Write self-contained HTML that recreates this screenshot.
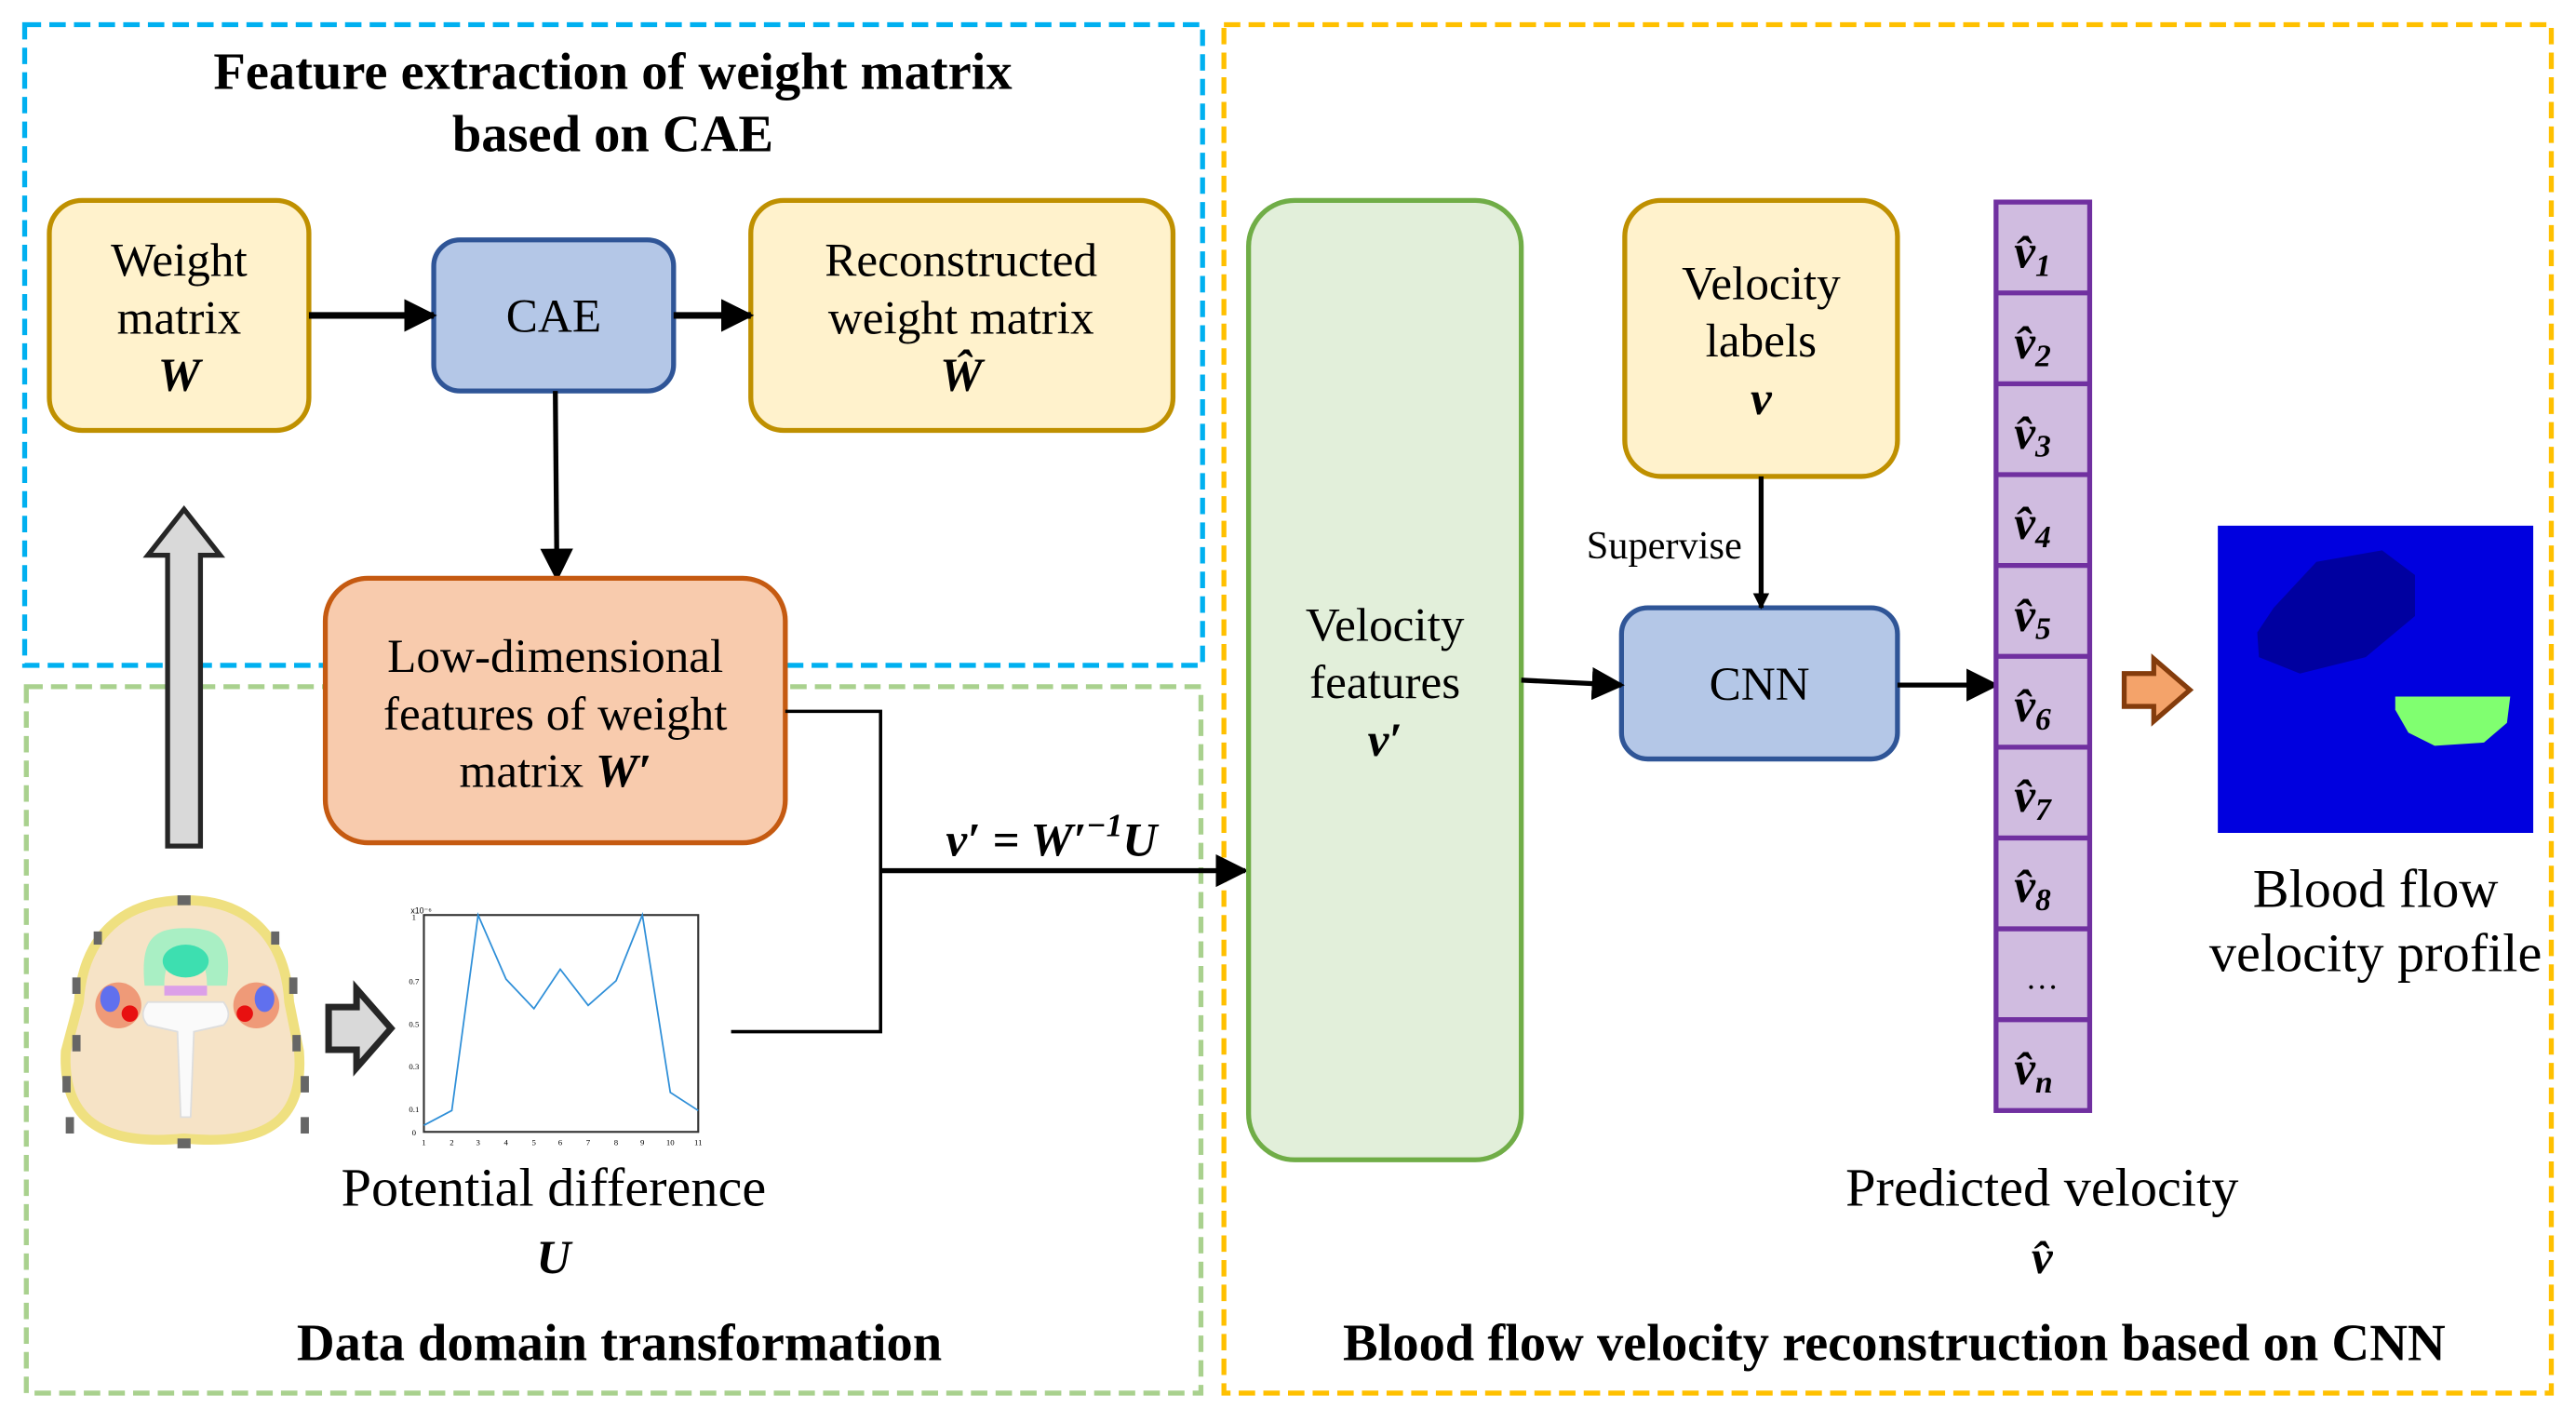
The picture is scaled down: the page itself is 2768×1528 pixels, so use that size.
<!DOCTYPE html>
<html><head><meta charset="utf-8"><style>
html,body{margin:0;padding:0;background:#fff;}
svg{display:block;}
text{font-family:"Liberation Serif",serif;fill:#000;}
.t{font-size:29px;}
.b{font-weight:bold;font-size:32px;}
.m{font-style:italic;font-weight:bold;font-family:"Liberation Serif",serif;}
</style></head><body>
<svg width="2768" height="1528" viewBox="0 0 1568 865.6" xmlns="http://www.w3.org/2000/svg">
<defs>
<marker id="ah" markerWidth="10" markerHeight="10" refX="9" refY="5" orient="auto" markerUnits="userSpaceOnUse"><path d="M0,0 L10,5 L0,10 z" fill="#000"/></marker>
<marker id="ah2" markerWidth="20" markerHeight="20" refX="18" refY="10" orient="auto" markerUnits="userSpaceOnUse"><path d="M0,0 L20,10 L0,20 z" fill="#000"/></marker>
</defs>
<rect x="15" y="15" width="717" height="390" fill="none" stroke="#00b0f0" stroke-width="3" stroke-dasharray="10,5"/>
<rect x="16" y="418" width="715" height="430" fill="none" stroke="#a9d18e" stroke-width="3" stroke-dasharray="10,5"/>
<rect x="745" y="15" width="808" height="833" fill="none" stroke="#ffc000" stroke-width="3" stroke-dasharray="10,5"/>
<text class="b" x="373" y="54" text-anchor="middle">Feature extraction of weight matrix</text>
<text class="b" x="373" y="92" text-anchor="middle">based on CAE</text>
<text class="b" x="377" y="828" text-anchor="middle">Data domain transformation</text>
<text class="b" x="1153" y="828" text-anchor="middle">Blood flow velocity reconstruction based on CNN</text>

<rect x="30" y="122" width="158" height="140" rx="20" fill="#fff2cc" stroke="#bf9000" stroke-width="3"/>
<text class="t" x="109" y="168" text-anchor="middle">Weight</text>
<text class="t" x="109" y="203" text-anchor="middle">matrix</text>
<text class="t m" x="109" y="238" text-anchor="middle">W</text>
<rect x="264" y="146" width="146" height="92" rx="16" fill="#b4c7e7" stroke="#2f5597" stroke-width="3"/>
<text class="t" x="337" y="202" text-anchor="middle">CAE</text>
<rect x="457" y="122" width="257" height="140" rx="20" fill="#fff2cc" stroke="#bf9000" stroke-width="3"/>
<text class="t" x="585" y="168" text-anchor="middle">Reconstructed</text>
<text class="t" x="585" y="203" text-anchor="middle">weight matrix</text>
<text class="t m" x="585" y="238" text-anchor="middle">Ŵ</text>
<line x1="188" y1="192" x2="264" y2="192" stroke="#000" stroke-width="4" marker-end="url(#ah2)"/>
<line x1="410" y1="192" x2="457" y2="192" stroke="#000" stroke-width="4" marker-end="url(#ah2)"/>
<line x1="338" y1="238" x2="339" y2="352" stroke="#000" stroke-width="3" marker-end="url(#ah2)"/>

<rect x="198" y="352" width="280" height="161" rx="26" fill="#f8cbad" stroke="#c55a11" stroke-width="3"/>
<text class="t" x="338" y="409" text-anchor="middle">Low-dimensional</text>
<text class="t" x="338" y="444" text-anchor="middle">features of weight</text>
<text class="t" x="338" y="479" text-anchor="middle">matrix <tspan class="m">W′</tspan></text>

<path d="M102,515 L102,338 L90,338 L112,310 L134,338 L122,338 L122,515 z" fill="#d9d9d9" stroke="#262626" stroke-width="3"/>

<g>
<path d="M113,548 C70,548 50,575 48,610 L40,640 C38,680 60,698 112,693 C165,698 185,680 182,640 L176,610 C174,575 155,548 113,548 z" fill="#f6e3c6" stroke="#efe080" stroke-width="6"/>
<path d="M88,600 C85,570 95,565 113,565 C132,565 142,570 138,600 L126,600 C126,585 120,580 113,580 C106,580 100,585 100,600 z" fill="#a9efc4"/>
<ellipse cx="113" cy="585" rx="14" ry="10" fill="#3ddfb0"/>
<rect x="100" y="600" width="26" height="6" fill="#dca0e8"/>
<ellipse cx="72" cy="612" rx="14" ry="14" fill="#ef9a78"/><ellipse cx="67" cy="608" rx="6" ry="8" fill="#6070ee"/><circle cx="79" cy="617" r="5" fill="#e81010"/>
<ellipse cx="156" cy="612" rx="14" ry="14" fill="#ef9a78"/><ellipse cx="161" cy="608" rx="6" ry="8" fill="#6070ee"/><circle cx="149" cy="617" r="5" fill="#e81010"/>
<path d="M90,610 L136,610 C140,615 140,620 136,624 L118,628 L116,680 L110,680 L108,628 L90,624 C86,620 86,615 90,610 z" fill="#fafafa" stroke="#ddd"/>
<g fill="#666"><rect x="108" y="545" width="8" height="6"/><rect x="57" y="567" width="5" height="8"/><rect x="165" y="567" width="5" height="8"/><rect x="44" y="595" width="5" height="10"/><rect x="176" y="595" width="5" height="10"/><rect x="44" y="630" width="5" height="10"/><rect x="178" y="630" width="5" height="10"/><rect x="38" y="655" width="5" height="10"/><rect x="183" y="655" width="5" height="10"/><rect x="108" y="693" width="8" height="6"/><rect x="40" y="680" width="5" height="10"/><rect x="183" y="680" width="5" height="10"/></g>
</g>
<path d="M200,613 L217,613 L217,602 L238,626 L217,650 L217,639 L200,639 z" fill="#d9d9d9" stroke="#262626" stroke-width="4"/>
<rect x="258" y="557" width="167" height="132" fill="#fff" stroke="#333" stroke-width="1.2"/>
<polyline points="258,685 275,676 291,557 308,596 325,614 341,590 358,612 375,597 391,557 408,665 425,676" fill="none" stroke="#2f8fd8" stroke-width="1"/>
<text x="250" y="556" font-size="5" style="font-family:'Liberation Sans',sans-serif">x10⁻⁶</text>
<g font-size="5" style="font-family:'Liberation Sans',sans-serif" text-anchor="middle">
<text x="258" y="697">1</text><text x="275" y="697">2</text><text x="291" y="697">3</text><text x="308" y="697">4</text><text x="325" y="697">5</text><text x="341" y="697">6</text><text x="358" y="697">7</text><text x="375" y="697">8</text><text x="391" y="697">9</text><text x="408" y="697">10</text><text x="425" y="697">11</text>
<text x="252" y="691">0</text><text x="252" y="560">1</text><text x="252" y="599">0.7</text><text x="252" y="625">0.5</text><text x="252" y="651">0.3</text><text x="252" y="677">0.1</text>
</g>
<text x="337" y="734" text-anchor="middle" font-size="33">Potential difference</text>
<text class="t m" x="337" y="775" text-anchor="middle">U</text>

<polyline points="478,433 536,433 536,628 445,628" fill="none" stroke="#000" stroke-width="2"/>
<line x1="536" y1="530" x2="758" y2="530" stroke="#000" stroke-width="3" marker-end="url(#ah2)"/>
<text class="t m" x="640" y="521" text-anchor="middle">v′ = W′<tspan dy="-12" font-size="20">−1</tspan><tspan dy="12">U</tspan></text>

<rect x="760" y="122" width="166" height="584" rx="28" fill="#e2efda" stroke="#70ad47" stroke-width="3"/>
<text class="t" x="843" y="390" text-anchor="middle">Velocity</text>
<text class="t" x="843" y="425" text-anchor="middle">features</text>
<text class="t m" x="843" y="460" text-anchor="middle">v′</text>
<rect x="989" y="122" width="166" height="168" rx="22" fill="#fff2cc" stroke="#bf9000" stroke-width="3"/>
<text class="t" x="1072" y="182" text-anchor="middle">Velocity</text>
<text class="t" x="1072" y="217" text-anchor="middle">labels</text>
<text class="t m" x="1072" y="252" text-anchor="middle">v</text>
<rect x="987" y="370" width="168" height="92" rx="16" fill="#b4c7e7" stroke="#2f5597" stroke-width="3"/>
<text class="t" x="1071" y="426" text-anchor="middle">CNN</text>
<text x="1013" y="340" text-anchor="middle" font-size="24">Supervise</text>
<line x1="1072" y1="290" x2="1072" y2="370" stroke="#000" stroke-width="3" marker-end="url(#ah)"/>
<line x1="926" y1="414" x2="987" y2="417" stroke="#000" stroke-width="3" marker-end="url(#ah2)"/>
<line x1="1155" y1="417" x2="1215" y2="417" stroke="#000" stroke-width="3" marker-end="url(#ah2)"/>

<g stroke="#7030a0" stroke-width="3" fill="#d0bce0">
<rect x="1215" y="123" width="57" height="553"/>
<line x1="1215" y1="178.3" x2="1272" y2="178.3"/><line x1="1215" y1="233.6" x2="1272" y2="233.6"/><line x1="1215" y1="288.9" x2="1272" y2="288.9"/><line x1="1215" y1="344.2" x2="1272" y2="344.2"/><line x1="1215" y1="399.5" x2="1272" y2="399.5"/><line x1="1215" y1="454.8" x2="1272" y2="454.8"/><line x1="1215" y1="510.1" x2="1272" y2="510.1"/><line x1="1215" y1="565.4" x2="1272" y2="565.4"/><line x1="1215" y1="620.7" x2="1272" y2="620.7"/>
</g>
<g class="t m" font-size="27">
<text x="1226" y="163">v̂<tspan font-size="19" dy="5">1</tspan></text>
<text x="1226" y="218">v̂<tspan font-size="19" dy="5">2</tspan></text>
<text x="1226" y="273">v̂<tspan font-size="19" dy="5">3</tspan></text>
<text x="1226" y="328">v̂<tspan font-size="19" dy="5">4</tspan></text>
<text x="1226" y="384">v̂<tspan font-size="19" dy="5">5</tspan></text>
<text x="1226" y="439">v̂<tspan font-size="19" dy="5">6</tspan></text>
<text x="1226" y="494">v̂<tspan font-size="19" dy="5">7</tspan></text>
<text x="1226" y="549">v̂<tspan font-size="19" dy="5">8</tspan></text>
<text x="1226" y="660">v̂<tspan font-size="19" dy="5">n</tspan></text>
</g>
<text x="1243" y="602" text-anchor="middle" font-size="20">…</text>

<path d="M1293,410 L1311,410 L1311,401 L1333,420 L1311,439 L1311,430 L1293,430 z" fill="#f4a36a" stroke="#843c0c" stroke-width="3"/>
<rect x="1350" y="320" width="192" height="187" fill="#0000df"/>
<path d="M1384,370 L1410,342 L1450,335 L1470,350 L1470,375 L1440,400 L1400,410 L1375,400 L1374,385 z" fill="#0000a0"/>
<path d="M1458,424 L1528,424 L1526,440 L1512,452 L1482,454 L1466,446 L1458,432 z" fill="#80ff70"/>
<text x="1446" y="552" text-anchor="middle" font-size="33">Blood flow</text>
<text x="1446" y="591" text-anchor="middle" font-size="33">velocity profile</text>
<text x="1243" y="734" text-anchor="middle" font-size="33">Predicted velocity</text>
<text class="t m" x="1243" y="775" text-anchor="middle">v̂</text>
</svg>
</body></html>
